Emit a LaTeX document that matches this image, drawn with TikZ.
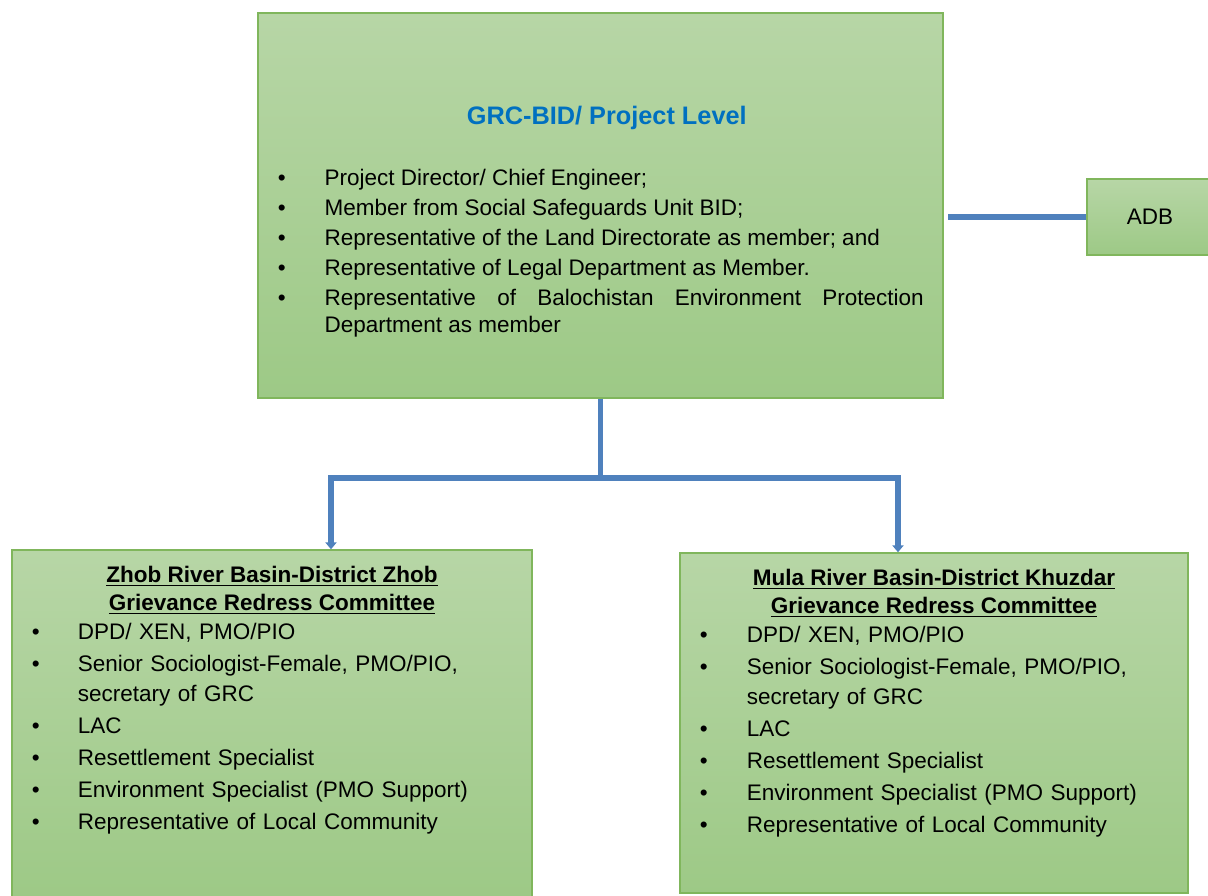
\documentclass[tikz,border=0pt]{standalone}
\usepackage{fontspec}
\setmainfont{Liberation Sans}
\definecolor{boxtop}{RGB}{183, 214, 166}
\definecolor{boxbottom}{RGB}{157, 201, 134}
\definecolor{boxedge}{RGB}{128, 182, 92}
\definecolor{linkblue}{RGB}{79, 129, 189}
\definecolor{titleblue}{RGB}{0, 112, 192}
\usetikzlibrary{arrows.meta,positioning}
\hyphenpenalty=10000

\newenvironment{members}[2]{%
  \begin{list}{\textbullet}{%
    \setlength{\leftmargin}{#1}\setlength{\labelwidth}{#1}%
    \setlength{\labelsep}{0pt}\setlength{\itemsep}{#2}%
    \setlength{\parsep}{0pt}\setlength{\topsep}{0pt}%
    \setlength{\partopsep}{0pt}%
    \renewcommand{\makelabel}[1]{##1\hfil}}}%
  {\end{list}}

\begin{document}
\begin{tikzpicture}[thick,
    box/.style={rectangle, draw=boxedge, line width=1pt, top color=boxtop, bottom color=boxbottom, inner sep=0pt},
    link/.style={draw=linkblue, line width=4pt},
    every node/.style={font=\fontsize{16}{19.2}\selectfont}]
    \useasboundingbox (0,0) rectangle (30.2,22.375);

    % committees
    \node[box, minimum width=17.125cm, minimum height=9.625cm] (grcbid) at (15.01,17.24) {};
    \node[box, minimum width=3.15cm, minimum height=1.9cm] (adb) at (28.75,16.95) {ADB};
    \node[box, minimum width=13cm, minimum height=8.75cm] (zhob) at (6.8,4.25) {};
    \node[box, minimum width=12.7cm, minimum height=8.5cm] (mula) at (23.35,4.3) {};

    % texts
    \node[below=2.34cm of grcbid.north, xshift=0.16cm, inner sep=0pt, text=titleblue, font=\fontsize{18}{21.6}\selectfont\bfseries] (grctitle) {GRC-BID/ Project Level};
    \node[below right=3.65cm and 0.5cm of grcbid.north west, inner sep=0pt, text width=16.15cm, align=justify] (grcmembers) {%
        \begin{members}{33.4pt}{2.1pt}
        \item Project Director/ Chief Engineer;
        \item Member from Social Safeguards Unit BID;
        \item Representative of the Land Directorate as member; and
        \item Representative of Legal Department as Member.
        \item Representative of Balochistan Environment Protection Department as member
        \end{members}};

    \node[below=0.415cm of zhob.north, inner sep=0pt, align=center, font=\fontsize{16}{19.9}\selectfont\bfseries] (zhobtitle) {\underline{Zhob River Basin-District Zhob}\\\underline{Grievance Redress Committee}};
    \node[below right=1.5cm and 0.5cm of zhob.north west, inner sep=0pt, text width=12cm, align=left, font=\fontsize{16}{21.3}\selectfont] (zhobmembers) {%
        \begin{members}{32.7pt}{1.4pt}
        \item DPD/ XEN, PMO/PIO
        \item Senior Sociologist-Female, PMO/PIO, secretary of GRC
        \item LAC
        \item Resettlement Specialist
        \item Environment Specialist (PMO Support)
        \item Representative of Local Community
        \end{members}};

    \node[below=0.415cm of mula.north, inner sep=0pt, align=center, font=\fontsize{16}{19.9}\selectfont\bfseries] (mulatitle) {\underline{Mula River Basin-District Khuzdar}\\\underline{Grievance Redress Committee}};
    \node[below right=1.5cm and 0.5cm of mula.north west, inner sep=0pt, text width=11.75cm, align=left, font=\fontsize{16}{21.3}\selectfont] (mulamembers) {%
        \begin{members}{33.4pt}{1.4pt}
        \item DPD/ XEN, PMO/PIO
        \item Senior Sociologist-Female, PMO/PIO, secretary of GRC
        \item LAC
        \item Resettlement Specialist
        \item Environment Specialist (PMO Support)
        \item Representative of Local Community
        \end{members}};

    % links
    \coordinate (split) at (15.01,10.425);
    \coordinate (zhobcol) at (8.275,10.425);
    \coordinate (mulacol) at (22.45,10.425);
    \draw[link, shorten >=3pt] (adb.west) -- (adb.west -| grcbid.east);
    \draw[link] (grcbid.south) -- (split);
    \draw[link, {Triangle[length=5pt, width=8pt]}-{Triangle[length=5pt, width=8pt]}] (zhobcol |- zhob.north) -- (zhobcol) -- (mulacol) -- (mulacol |- mula.north);
\end{tikzpicture}
\end{document}
